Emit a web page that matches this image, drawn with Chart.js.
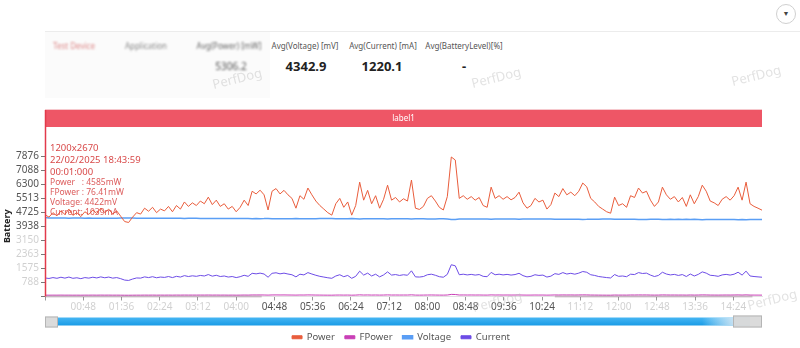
<!DOCTYPE html>
<html>
<head>
<meta charset="utf-8">
<script src="https://cdn.jsdelivr.net/npm/chart.js@4.4.1/dist/chart.umd.min.js"></script>
<style>
    html, body { margin: 0; padding: 0; width: 800px; height: 348px; overflow: hidden; background: #fff; font-family: "Noto Sans", "Open Sans", sans-serif; }
    #wrap { position: relative; width: 800px; height: 348px; }
    #chart-box { position: absolute; left: 0; top: 0; width: 800px; height: 352px; }
    .topline { position: absolute; left: 45px; right: 0; top: 31px; height: 1px; background: #ececec; }
    .shade { position: absolute; left: 45px; top: 32px; width: 225px; height: 66px; background: #fbfbfb; }
    .dd { position: absolute; left: 776px; top: 4px; width: 20px; height: 20px; border: 1px solid #d0d0d0; border-radius: 50%; box-sizing: border-box; font-size: 7px; color: #444; text-align: center; line-height: 18px; }
    .stat { position: absolute; transform: translateX(-50%); white-space: nowrap; }
    .hdr { top: 41px; font-size: 8px; line-height: 9px; color: #555; }
    .val { top: 59px; font-size: 13px; line-height: 15px; font-weight: bold; color: #222; }
    .blur { filter: blur(1.2px); color: #888; }
    .wm { position: absolute; font-size: 13px; color: rgba(185, 185, 185, 0.42); transform: translate(-50%, -50%) rotate(-14deg); pointer-events: none; }
</style>
</head>
<body>
<div id="wrap">
    <div class="shade"></div>
    <div class="topline"></div>
    <div class="dd">&#9660;</div>

    <div class="stat hdr blur" style="left:74px; color:#d88;">Test Device</div>
    <div class="stat hdr blur" style="left:146px;">Application</div>
    <div class="stat hdr blur" style="left:229px; color:#666;">Avg(Power) [mW]</div>
    <div class="stat val blur" style="left:231px; font-size:10px; font-weight:normal; color:#555;">5306.2</div>

    <div class="stat hdr" style="left:305px;">Avg(Voltage) [mV]</div>
    <div class="stat hdr" style="left:383px;">Avg(Current) [mA]</div>
    <div class="stat hdr" style="left:464px;">Avg(BatteryLevel)[%]</div>
    <div class="stat val" style="left:306px;">4342.9</div>
    <div class="stat val" style="left:382px;">1220.1</div>
    <div class="stat val" style="left:464px;">-</div>

    <div id="chart-box"><canvas id="perf-chart"></canvas></div>

    <div class="wm" style="left:237px; top:78px;">PerfDog</div>
    <div class="wm" style="left:496px; top:77px;">PerfDog</div>
    <div class="wm" style="left:756px; top:75px;">PerfDog</div>
    <div class="wm" style="left:497px; top:301px;">PerfDog</div>
    <div class="wm" style="left:772px; top:299px;">PerfDog</div>
</div>

<script>
// one sample every 5 s, 15 minutes of recording
const SAMPLE_SEC = 5;

const power = [
    4585, 4450, 4700, 4520, 4800, 4600, 4900, 4550, 4700, 4480, 4750, 4600, 4850, 4650, 4950, 4700, 4900, 4620, 4800, 4500,
    4200, 4150, 4450, 4700, 4620, 4950, 4780, 5000, 4700, 4900, 4800, 5050, 4750, 5100, 4900, 5300, 5050, 5250, 5100, 5350,
    5200, 5570, 5150, 5400, 5050, 5200, 4900, 5050, 4750, 5000, 5400, 5100, 5900, 5750, 5960, 5700, 4850, 5900, 6050, 5750,
    5950, 5700, 5500, 4950, 5650, 5450, 6080, 5700, 5350, 5100, 4900, 4700, 4560, 5200, 5500, 5000, 5300, 4560, 5100, 6410,
    5400, 5950, 5200, 5650, 4950, 5450, 6240, 5400, 5550, 5300, 5480, 5350, 6530, 4950, 4880, 5050, 5500, 5650, 5350, 5000,
    4850, 5600, 7820, 7650, 5500, 5650, 5450, 5600, 5400, 5550, 5100, 5000, 6130, 5500, 5650, 5450, 5600, 5420, 5550, 5850,
    5250, 4950, 5100, 5500, 5300, 5400, 4900, 5150, 5800, 5600, 6050, 5700, 5850, 5650, 5900, 6360, 6150, 5500, 5300, 5050,
    4900, 4750, 4670, 5570, 5100, 5200, 5000, 5650, 5550, 6080, 5800, 5900, 5400, 5050, 5300, 6130, 5700, 5450, 5600, 5300,
    5550, 5050, 5700, 5200, 5600, 6240, 5900, 5350, 5250, 5100, 5450, 5600, 5400, 5650, 6130, 5400, 6410, 5200, 5050, 4950, 4840
];

const fpower = [
    76.41, 75, 77, 76, 78, 76, 77, 75, 76, 74, 77, 76, 78, 76, 79, 77, 78, 76, 77, 75,
    72, 71, 74, 76, 76, 78, 77, 79, 76, 78, 77, 79, 77, 80, 78, 81, 79, 80, 79, 81,
    80, 83, 79, 81, 78, 80, 77, 79, 76, 78, 82, 79, 86, 85, 87, 84, 78, 86, 88, 85,
    87, 84, 82, 78, 84, 82, 88, 85, 81, 79, 77, 75, 74, 80, 82, 78, 81, 74, 79, 92,
    82, 86, 80, 84, 78, 82, 90, 82, 84, 81, 83, 82, 93, 78, 77, 79, 83, 85, 81, 78,
    77, 84, 118, 112, 84, 85, 83, 85, 82, 84, 80, 78, 89, 83, 85, 82, 84, 82, 83, 86,
    81, 78, 79, 83, 81, 82, 77, 80, 86, 84, 88, 85, 87, 84, 87, 91, 89, 83, 81, 78,
    77, 75, 74, 83, 79, 80, 78, 85, 84, 88, 86, 87, 82, 79, 81, 89, 85, 83, 84, 81,
    83, 78, 85, 80, 84, 90, 87, 82, 81, 79, 82, 84, 82, 85, 89, 82, 91, 81, 79, 78, 77
];

const voltage = [
    4422, 4401, 4398, 4396, 4399, 4395, 4393, 4396, 4394, 4397, 4392, 4394, 4390, 4393, 4389, 4392, 4390, 4393, 4391, 4395,
    4398, 4399, 4394, 4390, 4391, 4386, 4389, 4385, 4388, 4386, 4387, 4383, 4386, 4382, 4384, 4379, 4382, 4380, 4381, 4377,
    4379, 4373, 4378, 4375, 4378, 4376, 4379, 4376, 4379, 4376, 4371, 4374, 4364, 4366, 4363, 4366, 4374, 4362, 4360, 4364,
    4361, 4363, 4365, 4371, 4362, 4364, 4356, 4360, 4363, 4366, 4368, 4370, 4371, 4363, 4359, 4364, 4360, 4368, 4362, 4348,
    4358, 4352, 4359, 4354, 4361, 4355, 4346, 4354, 4352, 4355, 4352, 4353, 4341, 4357, 4357, 4355, 4350, 4348, 4351, 4354,
    4355, 4347, 4318, 4321, 4346, 4344, 4346, 4344, 4346, 4344, 4348, 4349, 4336, 4343, 4341, 4343, 4341, 4343, 4341, 4336,
    4342, 4345, 4343, 4338, 4340, 4338, 4344, 4341, 4332, 4334, 4327, 4332, 4329, 4332, 4328, 4321, 4324, 4332, 4334, 4337,
    4338, 4340, 4341, 4329, 4334, 4332, 4334, 4325, 4326, 4318, 4322, 4320, 4326, 4330, 4327, 4316, 4322, 4325, 4322, 4326,
    4322, 4328, 4318, 4324, 4319, 4309, 4313, 4320, 4320, 4322, 4317, 4314, 4316, 4312, 4304, 4313, 4300, 4315, 4316, 4317, 4318
];

const current = [
    1039, 1010, 1060, 1020, 1080, 1030, 1090, 1020, 1050, 1000, 1060, 1030, 1080, 1040, 1100, 1050, 1090, 1030, 1060, 1000,
    920, 900, 980, 1040, 1030, 1100, 1060, 1110, 1050, 1090, 1070, 1120, 1060, 1130, 1090, 1170, 1120, 1160, 1130, 1180,
    1150, 1230, 1140, 1190, 1120, 1150, 1090, 1120, 1060, 1110, 1190, 1130, 1300, 1270, 1310, 1260, 1080, 1300, 1330, 1270,
    1310, 1260, 1220, 1100, 1250, 1210, 1340, 1260, 1190, 1130, 1090, 1050, 1020, 1150, 1220, 1110, 1180, 1020, 1130, 1420,
    1200, 1310, 1150, 1250, 1100, 1210, 1380, 1200, 1230, 1180, 1220, 1190, 1440, 1100, 1090, 1120, 1220, 1250, 1190, 1110,
    1080, 1240, 1780, 1720, 1220, 1250, 1210, 1240, 1200, 1230, 1130, 1110, 1350, 1220, 1250, 1210, 1240, 1200, 1230, 1300,
    1170, 1100, 1130, 1220, 1180, 1200, 1090, 1140, 1280, 1240, 1340, 1260, 1300, 1250, 1310, 1400, 1360, 1220, 1180, 1120,
    1090, 1060, 1040, 1230, 1130, 1150, 1110, 1250, 1230, 1340, 1290, 1310, 1200, 1120, 1180, 1360, 1260, 1210, 1240, 1180,
    1230, 1120, 1260, 1150, 1240, 1380, 1310, 1190, 1170, 1130, 1210, 1240, 1200, 1250, 1360, 1200, 1420, 1150, 1120, 1100, 1080
];

const seriesNames = ['Power', 'FPower', 'Voltage', 'Current'];
const seriesUnits = ['mW', 'mW', 'mV', 'mA'];
const seriesColors = ['#e95d3c', '#c93fb6', '#5a9ef5', '#6d4ce6'];

const yTicks = [0, 788, 1575, 2363, 3150, 3938, 4725, 5513, 6300, 7088, 7876];
const blurredYTicks = [788, 1575, 2363, 3150];
const X_MAX = 900;
const X_STEP = 48;
// tick labels outside this window are blurred in the capture
const clearFrom = 288, clearTo = 624;

const bannerLabel = 'label1';
const tipHeader = ['1200x2670', '22/02/2025 18:43:59', '00:01:000'];

const allSeries = [power, fpower, voltage, current];

function fmtTime(v) {
    const m = Math.floor(v / 60);
    const s = v % 60;
    return String(m).padStart(2, '0') + ':' + String(s).padStart(2, '0');
}

Chart.defaults.font.family = '"Noto Sans", "Open Sans", sans-serif';
Chart.defaults.color = '#555';

const overlay = {
    id: 'overlay',
    afterLayout(chart) {
        // legend sits centred on the whole page, not the padded box
        chart.legend.left += 20;
        chart.legend.right += 20;
    },
    afterDraw(chart) {
        const { ctx, chartArea: a } = chart;
        const xs = chart.scales.x;
        ctx.save();

        // blurred strip along the x axis
        ctx.fillStyle = 'rgba(140, 100, 125, 0.35)';
        ctx.fillRect(a.left, a.bottom - 1, xs.getPixelForValue(272) - a.left, 2);
        ctx.fillRect(xs.getPixelForValue(640), a.bottom - 1, xs.getPixelForValue(888) - xs.getPixelForValue(640), 2);

        // label banner
        const bTop = a.top - 46, bH = 17;
        ctx.fillStyle = '#f6c8cd';
        ctx.fillRect(a.left, bTop - 1, a.right - a.left, 1);
        ctx.fillStyle = '#ee5666';
        ctx.fillRect(a.left, bTop, a.right - a.left, bH);
        ctx.fillStyle = '#fff';
        ctx.font = '8px "Noto Sans"';
        ctx.textAlign = 'center';
        ctx.textBaseline = 'middle';
        ctx.fillText(bannerLabel, (a.left + a.right) / 2, bTop + bH / 2 + 0.5);

        // cursor line on first sample
        const cx = xs.getPixelForValue(0);
        ctx.strokeStyle = '#e23a4b';
        ctx.lineWidth = 1.5;
        ctx.beginPath();
        ctx.moveTo(cx + 0.5, bTop);
        ctx.lineTo(cx + 0.5, a.bottom);
        ctx.stroke();

        // tooltip text (no box)
        ctx.textAlign = 'left';
        ctx.fillStyle = 'rgba(214, 62, 62, 0.95)';
        ctx.font = '9.5px "Noto Sans"';
        tipHeader.forEach((t, i) => ctx.fillText(t, cx + 5, a.top - 8 + i * 12));
        ctx.font = '8.5px "Noto Sans"';
        ctx.fillStyle = 'rgba(214, 62, 62, 0.85)';
        const pads = ['Power   : ', 'FPower : ', 'Voltage: ', 'Current: '];
        allSeries.forEach((s, i) => {
            ctx.fillText(pads[i] + s[0] + seriesUnits[i], cx + 5, a.top + 27 + i * 10);
        });

        // zoom slider under the axis
        const sTop = a.bottom + 21, sH = 8;
        const grad = ctx.createLinearGradient(0, sTop, 0, sTop + sH);
        grad.addColorStop(0, '#46b6f3');
        grad.addColorStop(1, '#1a9be6');
        ctx.fillStyle = grad;
        ctx.fillRect(a.left + 12, sTop, a.right - a.left - 24, sH);
        const fade = ctx.createLinearGradient(a.right - 60, 0, a.right - 25, 0);
        fade.addColorStop(0, 'rgba(255,255,255,0)');
        fade.addColorStop(1, 'rgba(230,236,242,0.9)');
        ctx.fillStyle = fade;
        ctx.fillRect(a.right - 60, sTop, 48, sH);

        ctx.fillStyle = 'rgba(215, 215, 215, 0.9)';
        ctx.strokeStyle = '#b5b5b5';
        ctx.lineWidth = 1;
        ctx.fillRect(a.left, sTop - 1, 13, sH + 3);
        ctx.strokeRect(a.left + 0.5, sTop - 0.5, 12, sH + 2);
        ctx.fillRect(a.right - 29, sTop - 2, 29, sH + 4);
        ctx.strokeRect(a.right - 28.5, sTop - 1.5, 28, sH + 3);

        ctx.restore();
    }
};

const ctx = document.getElementById('perf-chart').getContext('2d');

new Chart(ctx, {
    type: 'line',
    data: {
        datasets: allSeries.map((s, i) => ({
            label: seriesNames[i],
            data: s.map((v, k) => ({ x: k * SAMPLE_SEC, y: v })),
            borderColor: seriesColors[i],
            backgroundColor: seriesColors[i],
            borderWidth: i === 2 ? 1.5 : 1,
            pointRadius: 0,
            tension: 0,
            fill: false
        }))
    },
    options: {
        responsive: true,
        maintainAspectRatio: false,
        animation: false,
        layout: { padding: { top: 156, right: 38, left: 0, bottom: 0 } },
        plugins: {
            tooltip: { enabled: false },
            legend: {
                position: 'bottom',
                labels: {
                    boxWidth: 10,
                    boxHeight: 3,
                    padding: 10,
                    color: '#555',
                    font: { size: 9.5 }
                }
            }
        },
        scales: {
            x: {
                type: 'linear',
                min: 0,
                max: X_MAX,
                afterFit: scale => { scale.height = 26; },
                grid: { drawOnChartArea: false, tickLength: 4, color: '#999' },
                border: { color: '#e2e2e2' },
                ticks: {
                    stepSize: X_STEP,
                    includeBounds: false,
                    autoSkip: false,
                    maxRotation: 0,
                    padding: 1,
                    font: { size: 10 },
                    color: c => (c.tick.value < clearFrom || c.tick.value > clearTo) ? 'rgba(120,120,120,0.35)' : '#555',
                    callback: v => v === 0 ? '' : fmtTime(v)
                }
            },
            y: {
                min: 0,
                max: 7876,
                afterFit: scale => { scale.width = 45; },
                afterBuildTicks: scale => { scale.ticks = yTicks.map(v => ({ value: v })); },
                grid: { drawOnChartArea: false, tickLength: 4, color: '#777' },
                border: { color: '#ddd' },
                title: {
                    display: true,
                    text: 'Battery',
                    color: '#222',
                    padding: 2,
                    font: { size: 9, weight: 'bold' }
                },
                ticks: {
                    autoSkip: false,
                    padding: 2,
                    font: { size: 10 },
                    color: c => blurredYTicks.includes(c.tick.value) ? 'rgba(120,120,120,0.35)' : '#555',
                    callback: v => v === 0 ? '' : v
                }
            }
        }
    },
    plugins: [overlay]
});
</script>
</body>
</html>
